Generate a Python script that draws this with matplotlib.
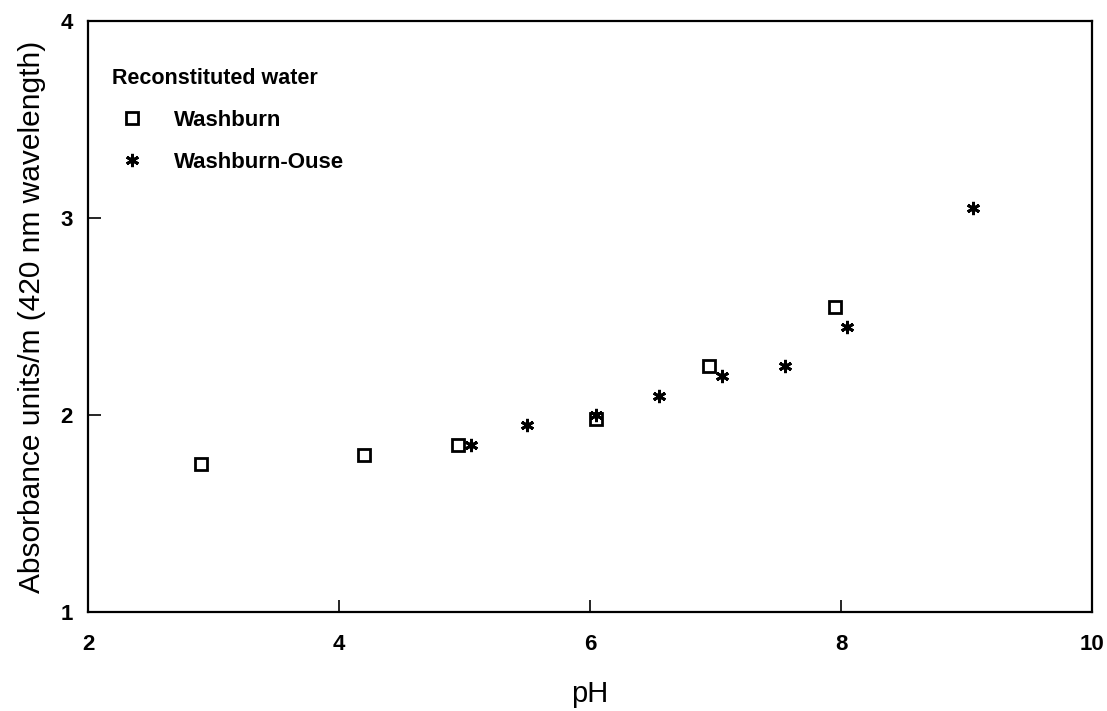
import matplotlib
matplotlib.use("Agg")
import matplotlib.pyplot as plt

# Absorbance (420 nm) vs pH, reconstituted water
washburn_ph = [2.9, 4.2, 4.95, 6.05, 6.95, 7.95]
washburn_abs = [1.75, 1.80, 1.85, 1.98, 2.25, 2.55]

ouse_ph = [5.05, 5.5, 6.05, 6.55, 7.05, 7.55, 8.05, 9.05]
ouse_abs = [1.85, 1.95, 2.0, 2.1, 2.2, 2.25, 2.45, 3.05]

x_ticks = [2, 4, 6, 8, 10]
y_ticks = [1, 2, 3, 4]

plt.rcParams['font.family'] = ['Liberation Sans', 'DejaVu Sans']

fig = plt.figure(figsize=(11.07, 7.11), dpi=100)
ax = fig.add_axes((0.0795, 0.139, 0.907, 0.831))

ax.plot(washburn_ph, washburn_abs, linestyle='none', marker='s', markersize=9,
        markerfacecolor='white', markeredgecolor='black', markeredgewidth=2.0,
        label='Washburn')
ax.plot(ouse_ph, ouse_abs, linestyle='none', marker=(6, 2, 0), markersize=9.5,
        color='black', markeredgewidth=2.1, label='Washburn-Ouse')

ax.set_xlim(2, 10)
ax.set_ylim(1, 4)
ax.set_xticks(x_ticks)
ax.set_yticks(y_ticks)
ax.tick_params(direction='in', length=9, width=1.2, labelsize=16)
ax.tick_params(axis='x', pad=16)
ax.tick_params(axis='y', pad=11)
for lbl in ax.get_xticklabels() + ax.get_yticklabels():
    lbl.set_fontweight('bold')

for sp in ax.spines.values():
    sp.set_linewidth(1.6)

ax.set_xlabel('pH', fontsize=21, labelpad=18)
ax.set_ylabel('Absorbance units/m (420 nm wavelength)', fontsize=21.5, labelpad=10)

leg = ax.legend(title='Reconstituted water', loc='upper left', frameon=False,
                bbox_to_anchor=(0.015, 0.936), borderaxespad=0,
                prop={'size': 16, 'weight': 'bold'}, title_fontsize=15.5,
                handletextpad=1.0, labelspacing=0.95, alignment='left',
                handlelength=1.8)
leg.get_title().set_fontweight('bold')

fig.savefig('out.png', dpi=100)
